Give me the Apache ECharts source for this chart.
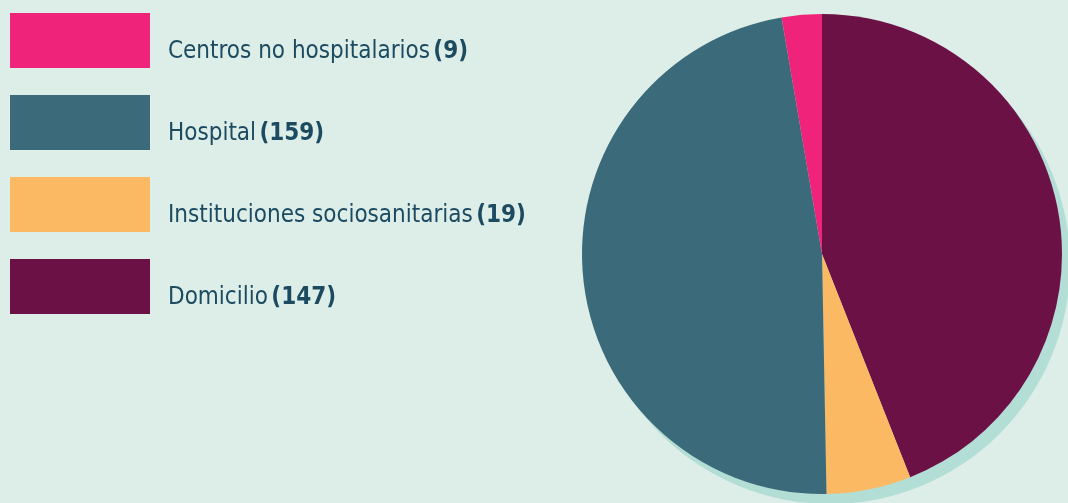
<!DOCTYPE html>
<html>
<head>
<meta charset="utf-8">
<script src="https://cdn.jsdelivr.net/npm/echarts@6/dist/echarts.min.js"></script>
<style>
html,body{margin:0;padding:0;background:#ddeee8;}
#chart{width:1068px;height:503px;}
</style>
</head>
<body>
<div id="chart"></div>
<script>
// Data (pie order clockwise from top)
const categories = ['Domicilio', 'Instituciones sociosanitarias', 'Hospital', 'Centros no hospitalarios'];
const values = [147, 19, 159, 9];
const colors = ['#6b1146', '#fbb964', '#3b6a7a', '#ee2379'];
const legendOrder = ['Centros no hospitalarios', 'Hospital', 'Instituciones sociosanitarias', 'Domicilio'];

const valueMap = {};
categories.forEach((c, i) => valueMap[c] = values[i]);

const chart = echarts.init(document.getElementById('chart'));
const fontFam = '"DejaVu Sans Condensed", "Liberation Sans Narrow", Roboto, sans-serif';
chart.setOption({
  backgroundColor: '#ddeee8',
  animation: false,
  legend: {
    data: legendOrder,
    orient: 'vertical',
    left: 10,
    top: 13,
    padding: 0,
    itemWidth: 140,
    itemHeight: 55,
    itemGap: 27,
    icon: 'rect',
    selectedMode: false,
    formatter: name => '{n|' + name + '} {b|(' + valueMap[name] + ')}',
    textStyle: {
      padding: [0, 0, 0, 13],
      rich: {
        n: { fontFamily: fontFam, fontSize: 24, color: '#1c4b61', padding: [22, 0, 0, 0] },
        b: { fontFamily: fontFam, fontSize: 24, fontWeight: 'bold', color: '#1c4b61', padding: [22, 0, 0, 0] }
      }
    }
  },
  series: [
    {
      type: 'pie',
      name: 'shadow',
      silent: true,
      z: 1,
      center: [830, 264],
      radius: 240,
      label: { show: false },
      labelLine: { show: false },
      itemStyle: { color: '#b3ded5' },
      data: [{ name: '_shadow', value: 1 }]
    },
    {
      type: 'pie',
      z: 2,
      center: [822, 254],
      radius: 240,
      startAngle: 90,
      clockwise: true,
      label: { show: false },
      labelLine: { show: false },
      itemStyle: { borderWidth: 0 },
      emphasis: { disabled: true },
      data: categories.map((c, i) => ({ name: c, value: values[i], itemStyle: { color: colors[i] } }))
    }
  ]
});
</script>
</body>
</html>
